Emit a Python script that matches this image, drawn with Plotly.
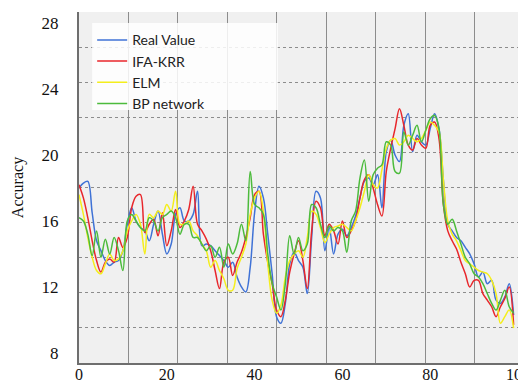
import plotly.graph_objects as go

x_vals = list(range(100))

real_value = [18.0, 18.3, 18.4, 16.5, 14.8, 14.2, 13.6, 13.3, 13.5, 13.6,
              14.2, 15.8, 16.8, 16.0, 15.6, 15.4, 14.8, 15.8, 16.6, 15.2,
              14.0, 14.6, 16.4, 16.8, 16.0, 16.0, 16.4, 17.8, 14.5, 14.6,
              14.5, 14.2, 13.9, 13.6, 13.2, 13.5, 12.6, 12.0, 11.7, 13.2,
              16.5, 18.1, 17.4, 15.2, 12.8, 10.2, 9.8, 11.0, 13.4, 14.1,
              13.6, 13.2, 11.6, 15.0, 17.8, 17.4, 14.2, 15.6, 14.0, 15.2,
              15.5, 15.1, 15.6, 16.3, 17.4, 18.4, 18.6, 18.2, 18.8, 16.8,
              20.2, 20.9, 20.0, 19.6, 21.8, 22.5, 20.2, 21.2, 20.8, 20.6,
              21.6, 22.5, 21.6, 18.5, 15.8, 15.4, 15.0, 14.8, 14.4, 14.0,
              13.4, 12.6, 12.9, 12.2, 12.4, 11.2, 11.0, 11.4, 12.2, 10.3]

ifa_krr = [18.2, 17.4, 16.2, 14.8, 13.6, 12.9, 13.5, 13.7, 13.5, 15.0,
           14.4, 15.0, 16.8, 17.5, 17.6, 15.3, 15.8, 16.1, 15.1, 16.5,
           14.5, 15.4, 16.7, 15.6, 16.0, 16.7, 18.1, 15.8, 15.4, 14.9,
           14.2, 13.0, 11.9, 13.5, 13.8, 12.7, 13.5, 14.1, 15.0, 16.2,
           17.6, 17.8, 15.2, 13.5, 12.2, 10.6, 10.2, 11.2, 12.9, 14.0,
           14.8, 13.6, 11.9, 15.4, 17.2, 16.8, 15.1, 15.8, 15.4, 14.6,
           16.0, 15.0, 15.4, 16.0, 17.4, 18.5, 18.8, 18.0, 17.0, 16.3,
           19.0, 20.4, 21.6, 22.8, 21.8, 20.6, 20.3, 21.0, 20.6, 20.4,
           21.8, 22.0, 21.0, 17.0, 15.4, 14.8, 14.3, 13.5, 12.8, 12.0,
           12.4, 12.4, 11.6, 11.2, 10.8, 10.2, 10.8, 11.3, 12.0, 9.7]

elm = [17.6, 16.4, 15.0, 13.8, 13.0, 12.8, 13.4, 14.0, 13.6, 13.7,
       14.2, 15.4, 16.0, 16.4, 15.8, 14.0, 16.4, 16.2, 16.6, 16.4,
       17.0, 16.6, 17.8, 15.8, 15.8, 16.0, 15.4, 15.1, 14.6, 14.2,
       13.2, 13.6, 13.0, 12.5, 11.8, 11.8, 13.1, 13.8, 14.6, 16.4,
       17.4, 17.8, 16.6, 13.4, 11.2, 10.4, 10.9, 12.6, 13.6, 14.0,
       14.2, 13.8, 15.0, 16.6, 16.4, 15.6, 14.7, 15.2, 15.6, 15.7,
       15.8, 15.6, 15.4, 16.0, 16.8, 17.8, 18.8, 18.2, 18.0, 19.1,
       20.4, 20.9, 21.0, 20.6, 20.8, 21.2, 21.0, 20.8, 21.0, 21.5,
       22.0, 21.8, 21.4, 18.5, 16.0, 15.2, 14.8, 14.2, 13.6, 13.4,
       13.2, 13.0, 12.9, 12.8, 12.4, 11.6, 9.8, 10.2, 10.6, 9.5]

bp_network = [16.2, 16.0, 15.2, 13.9, 15.4, 13.8, 14.9, 14.0, 15.0, 14.2,
              13.0, 16.0, 16.4, 16.0, 15.6, 15.4, 16.2, 16.0, 15.4, 16.2,
              16.4, 16.6, 16.2, 15.2, 15.8, 15.8, 15.0, 15.0, 14.6, 14.2,
              14.5, 13.8, 14.4, 13.2, 14.6, 14.0, 14.6, 15.8, 14.8, 19.0,
              17.0, 16.8, 16.4, 14.0, 12.2, 11.4, 10.6, 12.2, 15.1, 14.0,
              15.0, 14.2, 14.6, 17.0, 16.8, 15.8, 15.0, 15.7, 15.4, 15.6,
              15.4, 14.1, 16.0, 16.6, 18.6, 19.7, 17.2, 18.8, 19.2, 19.4,
              20.8, 20.6, 19.0, 18.9, 21.4, 20.6, 21.2, 21.8, 20.8, 21.5,
              22.2, 22.4, 21.6, 17.0, 15.8, 16.1, 15.4, 14.6, 13.8, 13.4,
              12.8, 12.6, 12.2, 11.6, 11.0, 10.6, 11.2, 11.8, 10.8, 10.4]

series_names = ["Real Value", "IFA-KRR", "ELM", "BP network"]
series_data = [real_value, ifa_krr, elm, bp_network]
series_colors = ["#3f72d6", "#e8262b", "#f4ee1c", "#4cbb3c"]

x_ticks = [0, 20, 40, 60, 80, 100]
y_ticks = [8, 12, 16, 20, 24, 28]

fig = go.Figure()

# dummy trace so the grid subplot (x, y) exists
fig.add_trace(go.Scatter(x=[None], y=[None], xaxis="x", yaxis="y",
                         showlegend=False, hoverinfo="skip"))

for name, vals, col in zip(series_names, series_data, series_colors):
    fig.add_trace(go.Scatter(
        x=x_vals, y=vals, name=name, mode="lines",
        line=dict(color=col, width=1.5, shape="spline", smoothing=1.0),
        xaxis="x2", yaxis="y2"))

serif = "Liberation Serif, Times New Roman, serif"

fig.update_layout(
    width=518, height=385,
    margin=dict(l=79, r=0, t=12, b=22, autoexpand=False),
    paper_bgcolor="white",
    plot_bgcolor="#f0f0f0",
    showlegend=True,
    legend=dict(x=0.03, y=0.965, xanchor="left", yanchor="top",
                bgcolor="rgba(0,0,0,0)", borderwidth=0,
                font=dict(family="Lato, sans-serif", size=14, color="#222"),
                tracegroupgap=0, itemwidth=30),
    xaxis=dict(range=[0, 8.87], dtick=1, tick0=0, showgrid=True,
               gridcolor="#8c8c8c", gridwidth=1, showticklabels=False,
               zeroline=False, showline=False, ticks=""),
    yaxis=dict(range=[0, 10], dtick=1, tick0=0, showgrid=True,
               gridcolor="#8c8c8c", gridwidth=1, griddash="dot",
               showticklabels=False, zeroline=False, showline=False, ticks=""),
    xaxis2=dict(overlaying="x", anchor="y2", side="bottom", range=[0, 100],
                tickvals=x_ticks, ticktext=[str(v) for v in x_ticks],
                showgrid=False, zeroline=False,
                showline=True, linecolor="#6e6e6e", linewidth=2,
                ticks="", automargin=False, ticklabelstandoff=-4,
                ticklabeloverflow="allow",
                tickfont=dict(family=serif, size=16, color="#111")),
    yaxis2=dict(overlaying="y", anchor="x2", side="left", range=[7.39, 28.67],
                tickvals=y_ticks, ticktext=[str(v) for v in y_ticks],
                showgrid=False, zeroline=False,
                showline=True, linecolor="#6e6e6e", linewidth=2,
                ticks="", ticklabelstandoff=15, automargin=False,
                tickfont=dict(family=serif, size=17, color="#111"),
                title=dict(text="Accuracy", standoff=14,
                           font=dict(family=serif, size=16, color="#111"))),
    shapes=[dict(type="rect", xref="paper", yref="paper",
                 x0=0.03, x1=0.453, y0=0.721, y1=0.969,
                 fillcolor="rgba(255,255,255,0.85)", line=dict(width=0),
                 layer="above")],
)

fig.write_html("out.html")
